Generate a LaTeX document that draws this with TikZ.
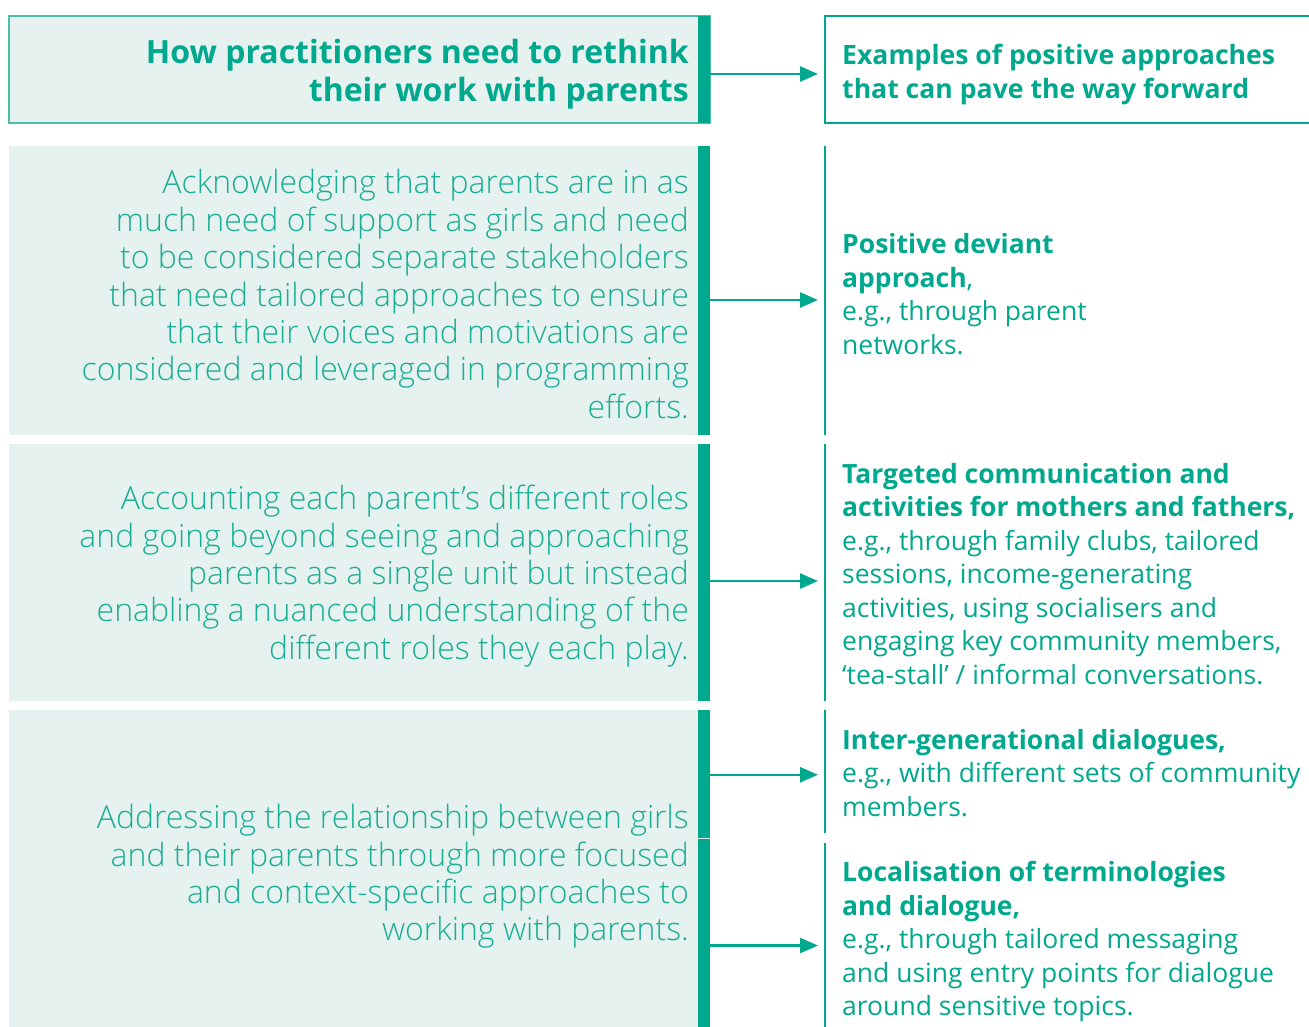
\documentclass[tikz,border=0pt]{standalone}
\usepackage{fontspec}
\setmainfont{Open Sans}
\newfontfamily\lightfont{Open Sans Light}
\usetikzlibrary{arrows.meta}

\definecolor{brandteal}{RGB}{0,168,142}
\definecolor{softteal}{RGB}{26,174,148}
\definecolor{panelfill}{RGB}{230,242,239}
\definecolor{edgeteal}{RGB}{77,190,170}

\tikzset{
  panel/.style={fill=panelfill, draw=none, inner sep=0pt, outer sep=0pt, anchor=north west},
  bar/.style={fill=brandteal, draw=none, inner sep=0pt, outer sep=0pt, anchor=north east, minimum width=12pt},
  column/.style={draw=none, inner sep=0pt, outer sep=0pt, anchor=north west, minimum width=490pt},
  vline/.style={draw=brandteal, line width=2pt},
  arr/.style={draw=brandteal, line width=2.5pt, -{Triangle[length=18pt,width=15pt]}, shorten >=7pt},
  lefttext/.style={inner sep=0pt, align=right, anchor=east, text=softteal,
    font=\lightfont\fontsize{32}{37.4}\selectfont},
  righttext/.style={inner sep=0pt, align=left, anchor=west, text=brandteal,
    font=\fontsize{26.5}{33.5}\selectfont},
  headtext/.style={inner sep=0pt, text=brandteal, font=\bfseries\fontsize{32}{38}\selectfont},
}

\begin{document}
\begin{tikzpicture}[x=1pt,y=-1pt]
\useasboundingbox (0,0) rectangle (1309,1026);

% ---- header row ----
\node[panel, draw=edgeteal, line width=1.5pt, minimum width=701pt, minimum height=107pt] (hl) at (9,16) {};
\node[bar, minimum height=107pt] (hb) at (710,16) {};
\node[headtext, align=right, anchor=east] (ht) at (689,74.5)
  {How practitioners need to rethink\\their work with parents};
\node[column, draw=brandteal, line width=2pt, minimum width=500pt, minimum height=107pt] (hr) at (825,16) {};
\node[headtext, align=left, anchor=west, font=\bfseries\fontsize{26.6}{34}\selectfont] (hx) at (842,74.5)
  {Examples of positive approaches\\that can pave the way forward};
\draw[arr] ([yshift=-4.5pt]hb.east) -- ([yshift=-4.5pt]hr.west);

% ---- row 1 ----
\node[panel, minimum width=701pt, minimum height=289pt] (p1) at (9,146) {};
\node[bar, minimum height=289pt] (b1) at (710,146) {};
\node[lefttext] (l1) at (689,294)
  {Acknowledging that parents are in as\\much need of support as girls and need\\to be considered separate stakeholders\\that need tailored approaches to ensure\\that their voices and motivations are\\considered and leveraged in programming\\efforts.};
\node[column, minimum height=289pt] (c1) at (825,146) {};
\draw[vline] (c1.north west) -- (c1.south west);
\node[righttext] (r1) at (842,294)
  {\textbf{Positive deviant}\\\textbf{approach},\\e.g., through parent\\networks.};
\draw[arr] ([yshift=-9.5pt]b1.east) -- ([yshift=-9.5pt]c1.west);

% ---- row 2 ----
\node[panel, minimum width=701pt, minimum height=257pt] (p2) at (9,444) {};
\node[bar, minimum height=257pt] (b2) at (710,444) {};
\node[lefttext] (l2) at (689,576)
  {Accounting each parent’s different roles\\and going beyond seeing and approaching\\parents as a single unit but instead\\enabling a nuanced understanding of the\\different roles they each play.};
\node[column, minimum height=257pt] (c2) at (825,444) {};
\draw[vline] (c2.north west) -- (c2.south west);
\node[righttext] (r2) at (842,574)
  {\textbf{Targeted communication and}\\\textbf{activities for mothers and fathers,}\\e.g., through family clubs, tailored\\sessions, income-generating\\activities, using socialisers and\\engaging key community members,\\‘tea-stall’ / informal conversations.};
\draw[arr] ([yshift=-8.5pt]b2.east) -- ([yshift=-8.5pt]c2.west);

% ---- row 3 ----
\node[panel, minimum width=701pt, minimum height=320pt] (p3) at (9,710) {};
\node[bar, minimum height=127.5pt] (b3a) at (710,710) {};
\node[bar, minimum height=190pt] (b3b) at (710,838.5) {};
\node[lefttext] (l3) at (689,876.5)
  {Addressing the relationship between girls\\and their parents through more focused\\and context-specific approaches to\\working with parents.};
\node[column, minimum height=123pt] (c3a) at (825,710) {};
\draw[vline] (c3a.north west) -- (c3a.south west);
\node[column, minimum height=190pt] (c3b) at (825,843) {};
\draw[vline] (c3b.north west) -- (c3b.south west);
\node[righttext] (r3a) at (842,773)
  {\textbf{Inter-generational dialogues,}\\e.g., with different sets of community\\members.};
\node[righttext] (r3b) at (842,942)
  {\textbf{Localisation of terminologies}\\\textbf{and dialogue,}\\e.g., through tailored messaging\\and using entry points for dialogue\\around sensitive topics.};
\draw[arr] ([yshift=-1pt]b3a.east) -- ([yshift=-1pt]b3a.east -| c3a.west);
\draw[arr] ([yshift=-12pt]b3b.east) -- ([yshift=-12pt]b3b.east -| c3b.west);

\end{tikzpicture}
\end{document}
